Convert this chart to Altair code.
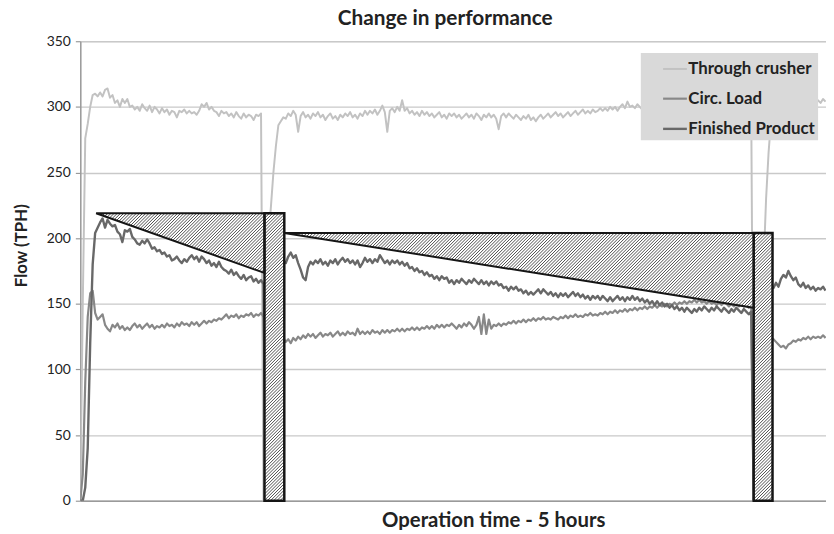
import math
import altair as alt
import pandas as pd

# ---------------- data ----------------
TITLE = "Change in performance"
Y_TITLE = "Flow (TPH)"
X_TITLE = "Operation time - 5 hours"
SERIES = ["Through crusher", "Circ. Load", "Finished Product"]
COLORS = ["#c2c2c2", "#888888", "#686868"]
WIDTHS = [2.0, 2.4, 2.4]
Y_TICKS = [0, 50, 100, 150, 200, 250, 300, 350]
X_MAX = 301.2  # minutes shown (about 5 hours)

MINUTES = list(range(302))

THROUGH_CRUSHER = [
    0, 150, 276, 287, 300, 309, 310, 308, 311, 308,
    313, 314, 307, 309, 303, 305, 300, 306, 303, 306,
    300, 301, 298, 300, 297, 302, 299, 297, 301, 296,
    300, 298, 295, 299, 296, 298, 294, 297, 296, 292,
    297, 296, 298, 295, 297, 295, 296, 294, 297, 302,
    300, 303, 298, 300, 297, 296, 293, 297, 295, 296,
    293, 295, 292, 296, 293, 291, 295, 292, 294, 293,
    290, 294, 293, 295, 0, 0, 200, 224, 250, 270,
    286, 289, 292, 291, 295, 293, 297, 294, 281, 293,
    296, 292, 294, 291, 295, 293, 296, 292, 294, 290,
    293, 295, 291, 293, 290, 294, 292, 295, 293, 296,
    292, 294, 291, 295, 293, 297, 294, 297, 295, 298,
    294, 297, 301, 296, 281, 297, 299, 296, 300, 297,
    305, 297, 299, 295, 297, 294, 296, 293, 297, 294,
    296, 293, 295, 292, 294, 296, 292, 294, 291, 295,
    293, 295, 292, 294, 291, 293, 295, 292, 294, 291,
    295, 293, 290, 294, 292, 295, 292, 294, 291, 283,
    293, 295, 292, 295, 293, 291, 294, 292, 290, 293,
    291, 294, 290, 292, 289, 292, 294, 291, 293, 295,
    292, 294, 296, 293, 295, 292, 294, 296, 293, 295,
    297, 294, 296, 298, 295, 297, 295, 298, 296, 297,
    299, 297, 299, 297, 300, 298, 300, 297, 300, 302,
    299, 304, 300, 301, 299, 302, 300, 298, 301, 299,
    302, 300, 298, 301, 299, 302, 300, 298, 301, 299,
    302, 300, 298, 301, 299, 302, 300, 298, 301, 299,
    302, 300, 298, 301, 299, 302, 300, 298, 301, 299,
    302, 300, 298, 301, 299, 302, 300, 298, 301, 299,
    300, 298, 0, 0, 0, 60, 180, 230, 265, 290,
    300, 304, 306, 303, 305, 307, 304, 306, 303, 305,
    307, 304, 306, 303, 305, 307, 304, 306, 305, 303,
    306, 304,
]

CIRC_LOAD = [
    0, 20, 90, 140, 158, 160, 143, 138, 140, 142,
    134, 131, 129, 134, 132, 135, 131, 133, 130, 132,
    130, 133, 135, 132, 134, 131, 133, 135, 132, 134,
    131, 133, 132, 134, 132, 135, 133, 134, 132, 135,
    133, 136, 134, 135, 133, 136, 134, 136, 133, 135,
    137, 135, 137, 136, 138, 137, 139, 138, 140, 142,
    139, 141, 140, 142, 139, 141, 140, 142, 141, 143,
    140, 142, 141, 143, 140, 0, 0, 60, 110, 125,
    122, 124, 124, 121, 123, 120, 124, 122, 125, 123,
    126, 124, 127, 125, 127, 124, 126, 128, 125, 127,
    126, 128, 125, 127, 129, 126, 128, 126, 129, 127,
    128, 126, 131, 127, 129, 127, 129, 127, 130, 128,
    129, 127, 130, 128, 130, 128, 130, 129, 131, 129,
    131, 129, 131, 130, 132, 130, 132, 130, 132, 131,
    133, 131, 133, 131, 134, 132, 134, 132, 134, 133,
    135, 133, 131, 134, 132, 135, 133, 136, 134, 131,
    134, 140, 127, 142, 127, 138, 131, 134, 133, 135,
    133, 135, 134, 136, 135, 137, 135, 137, 136, 138,
    136, 138, 137, 139, 137, 139, 138, 140, 138, 139,
    138, 140, 139, 138, 140, 139, 141, 139, 141, 140,
    142, 140, 141, 140, 142, 141, 143, 141, 142, 141,
    143, 142, 144, 142, 144, 143, 145, 143, 145, 144,
    146, 144, 146, 145, 147, 145, 147, 146, 148, 146,
    148, 147, 149, 147, 149, 148, 150, 148, 150, 149,
    151, 149, 151, 150, 152, 150, 152, 151, 153, 151,
    153, 151, 152, 150, 152, 150, 151, 149, 151, 149,
    151, 150, 148, 150, 148, 150, 148, 150, 148, 149,
    147, 149, 0, 0, 0, 60, 110, 125, 122, 124,
    123, 121, 119, 117, 118, 116, 119, 120, 122, 121,
    123, 122, 124, 123, 125, 123, 125, 124, 125, 124,
    126, 124,
]

FINISHED_PRODUCT = [
    0, 0, 10, 40, 120, 180, 204, 208, 212, 215,
    208, 214, 211, 209, 210, 205, 203, 197, 206, 205,
    207, 201, 199, 196, 195, 198, 196, 199, 196, 192,
    193, 190, 191, 188, 189, 186, 187, 183, 184, 186,
    183, 181, 184, 182, 185, 187, 184, 186, 182, 186,
    184, 181, 183, 179, 181, 178, 182, 178, 176, 175,
    173, 176, 172, 174, 171, 169, 172, 168, 170, 171,
    167, 169, 166, 168, 165, 0, 0, 80, 160, 178,
    182, 180, 183, 181, 186, 189, 185, 187, 181, 176,
    170, 168, 178, 182, 180, 183, 181, 184, 180, 182,
    179, 183, 181, 184, 180, 183, 185, 182, 184, 181,
    183, 180, 183, 178, 181, 185, 182, 184, 181, 184,
    182, 187, 184, 181, 183, 180, 183, 181, 183, 180,
    182, 179, 181, 177, 178, 175, 177, 174, 175, 172,
    174, 171, 172, 169, 171, 168, 171, 169, 170, 166,
    168, 165, 168, 166, 169, 167, 165, 168, 166, 169,
    167, 165, 168, 165, 167, 164, 167, 165, 167, 164,
    165, 162, 163, 160, 163, 161, 163, 160, 161, 158,
    160, 157, 159, 157, 159, 161, 158, 161, 159, 157,
    159, 156, 158, 155, 158, 156, 158, 155, 157, 159,
    156, 158, 155, 157, 154, 156, 153, 156, 154, 156,
    153, 156, 154, 152, 155, 152, 154, 156, 153, 155,
    152, 155, 153, 156, 153, 155, 152, 154, 151, 153,
    150, 152, 149, 152, 149, 151, 148, 150, 147, 149,
    146, 148, 145, 147, 144, 147, 145, 143, 146, 144,
    147, 145, 148, 146, 144, 147, 145, 148, 146, 144,
    147, 145, 143, 146, 144, 147, 145, 143, 146, 144,
    142, 144, 0, 0, 0, 80, 150, 162, 160, 163,
    162, 166, 163, 169, 172, 170, 175, 171, 168, 170,
    165, 163, 166, 162, 164, 161, 163, 160, 162, 161,
    163, 160,
]

# hatched wedges: start minute, end minute, level at start, level at end
WEDGE_START = [6.4, 82.4]
WEDGE_END = [74.4, 272.0]
WEDGE_LEVEL = [219, 204]
WEDGE_END_LEVEL = [173.5, 147]
# hatched shutdown bars: start minute, end minute, height
BAR_START = [74.4, 272.0]
BAR_END = [82.4, 279.6]
BAR_TOP = [219, 204]

# ---------------- layout ----------------
W, H = 753, 464
SX = W / X_MAX
SY = H / 350.0
FONT = "Lato"
HATCH_STEP = 3.2

# ---------------- tables ----------------
rows = []
for name, vals in zip(SERIES, [THROUGH_CRUSHER, CIRC_LOAD, FINISHED_PRODUCT]):
    for t, v in zip(MINUTES, vals):
        rows.append({"series": name, "t": t, "v": v})
lines_df = pd.DataFrame(rows)

wedge_rows = []
polys = []
for i, (a, b, lv, le) in enumerate(zip(WEDGE_START, WEDGE_END, WEDGE_LEVEL, WEDGE_END_LEVEL)):
    wedge_rows.append({"shape": f"w{i}", "t": a, "v": lv, "v2": lv})
    wedge_rows.append({"shape": f"w{i}", "t": b, "v": le, "v2": lv})
    polys.append([(a, lv), (b, lv), (b, le)])
wedge_df = pd.DataFrame(wedge_rows)

bar_rows = []
for a, b, top in zip(BAR_START, BAR_END, BAR_TOP):
    bar_rows.append({"t": a, "t2": b, "v": 0, "v2": top})
    polys.append([(a, 0), (b, 0), (b, top), (a, top)])
bar_df = pd.DataFrame(bar_rows)


def hatch_segments(poly, step):
    P = [(t * SX, v * SY) for t, v in poly]
    d = [u - w for u, w in P]
    k0 = math.ceil(min(d) / step)
    k1 = math.floor(max(d) / step)
    segs = []
    n = len(P)
    for k in range(k0, k1 + 1):
        c = k * step
        pts = []
        for i in range(n):
            (u1, w1), (u2, w2) = P[i], P[(i + 1) % n]
            f1, f2 = u1 - w1 - c, u2 - w2 - c
            if f1 == f2:
                continue
            if (f1 <= 0 <= f2) or (f2 <= 0 <= f1):
                s = f1 / (f1 - f2)
                pts.append((u1 + s * (u2 - u1), w1 + s * (w2 - w1)))
        if len(pts) >= 2:
            p, q = min(pts), max(pts)
            if q[0] - p[0] > 0.3:
                segs.append({"t": p[0] / SX, "v": p[1] / SY, "t2": q[0] / SX, "v2": q[1] / SY})
    return segs


hatch_rows = []
for poly in polys:
    hatch_rows.extend(hatch_segments(poly, HATCH_STEP))
hatch_df = pd.DataFrame(hatch_rows)

# ---------------- encodings ----------------
XS = alt.Scale(domain=[0, X_MAX], nice=False, zero=False)
YS = alt.Scale(domain=[0, 350], nice=False)
XA = alt.Axis(
    labels=False, ticks=False, grid=False, domain=True,
    domainColor="#9a9a9a", domainWidth=1.5,
    title=X_TITLE, titleFont=FONT, titleFontSize=20.5, titleFontWeight="bold",
    titleColor="#222222", titleX=417, titleY=20, titleAlign="center",
    titleBaseline="middle",
)
YA = alt.Axis(
    values=Y_TICKS, grid=True, gridColor="#c9c9c9", gridWidth=1.4,
    domain=True, domainColor="#9a9a9a", domainWidth=1.5,
    ticks=True, tickSize=5, tickColor="#9a9a9a", tickWidth=1.2,
    labelFont=FONT, labelFontSize=14, labelColor="#222222", labelPadding=5,
    title=Y_TITLE, titleFont=FONT, titleFontSize=17, titleFontWeight="bold",
    titleColor="#222222", titleAngle=270, titleX=-59, titleY=206,
    titleAlign="center", titleBaseline="middle",
)


def X(f="t"):
    return alt.X(f"{f}:Q", scale=XS, axis=XA)


def Y(f="v"):
    return alt.Y(f"{f}:Q", scale=YS, axis=YA)


lines = alt.Chart(lines_df).mark_line(clip=True, strokeJoin="round").encode(
    x=X(),
    y=Y(),
    color=alt.Color(
        "series:N",
        scale=alt.Scale(domain=SERIES, range=COLORS),
        legend=alt.Legend(
            title=None, orient="none", legendX=566, legendY=12,
            fillColor="#d9d9d9", padding=3, symbolType="stroke",
            symbolSize=576, symbolStrokeWidth=2.5, symbolOffset=18,
            labelOffset=0, labelFont=FONT, labelFontSize=17,
            labelFontWeight="bold", labelColor="#222222", rowPadding=8.5,
        ),
    ),
    strokeWidth=alt.StrokeWidth(
        "series:N", scale=alt.Scale(domain=SERIES, range=WIDTHS), legend=None
    ),
)

wedge_fill = alt.Chart(wedge_df).mark_area(color="white", opacity=1).encode(
    x=X(), y=Y(), y2="v2:Q", detail="shape:N"
)
bar_fill = alt.Chart(bar_df).mark_rect(color="white", opacity=1).encode(
    x=X(), x2="t2:Q", y=Y(), y2="v2:Q"
)
hatch = alt.Chart(hatch_df).mark_rule(color="#3c3c3c", strokeWidth=0.9).encode(
    x=X(), x2="t2:Q", y=Y(), y2="v2:Q"
)
wedge_edge = alt.Chart(wedge_df).mark_area(
    fillOpacity=0, stroke="#151515", strokeWidth=2, strokeJoin="miter"
).encode(x=X(), y=Y(), y2="v2:Q", detail="shape:N")
bar_edge = alt.Chart(bar_df).mark_rect(
    fillOpacity=0, stroke="#151515", strokeWidth=2.5
).encode(x=X(), x2="t2:Q", y=Y(), y2="v2:Q")

chart = (
    alt.layer(lines, wedge_fill, bar_fill, hatch, wedge_edge, bar_edge)
    .properties(
        width=W,
        height=H,
        autosize=alt.AutoSizeParams(type="none"),
        padding={"left": 73, "top": 31, "right": 0, "bottom": 27},
        title=alt.TitleParams(
            TITLE, font=FONT, fontSize=21, fontWeight="bold", color="#222222",
            anchor="middle", dx=-8, dy=27, offset=15, baseline="alphabetic",
        ),
    )
    .configure_view(stroke=None)
    .configure(background="white")
)

chart.save("out.html", embed_options={"renderer": "svg", "actions": False})
